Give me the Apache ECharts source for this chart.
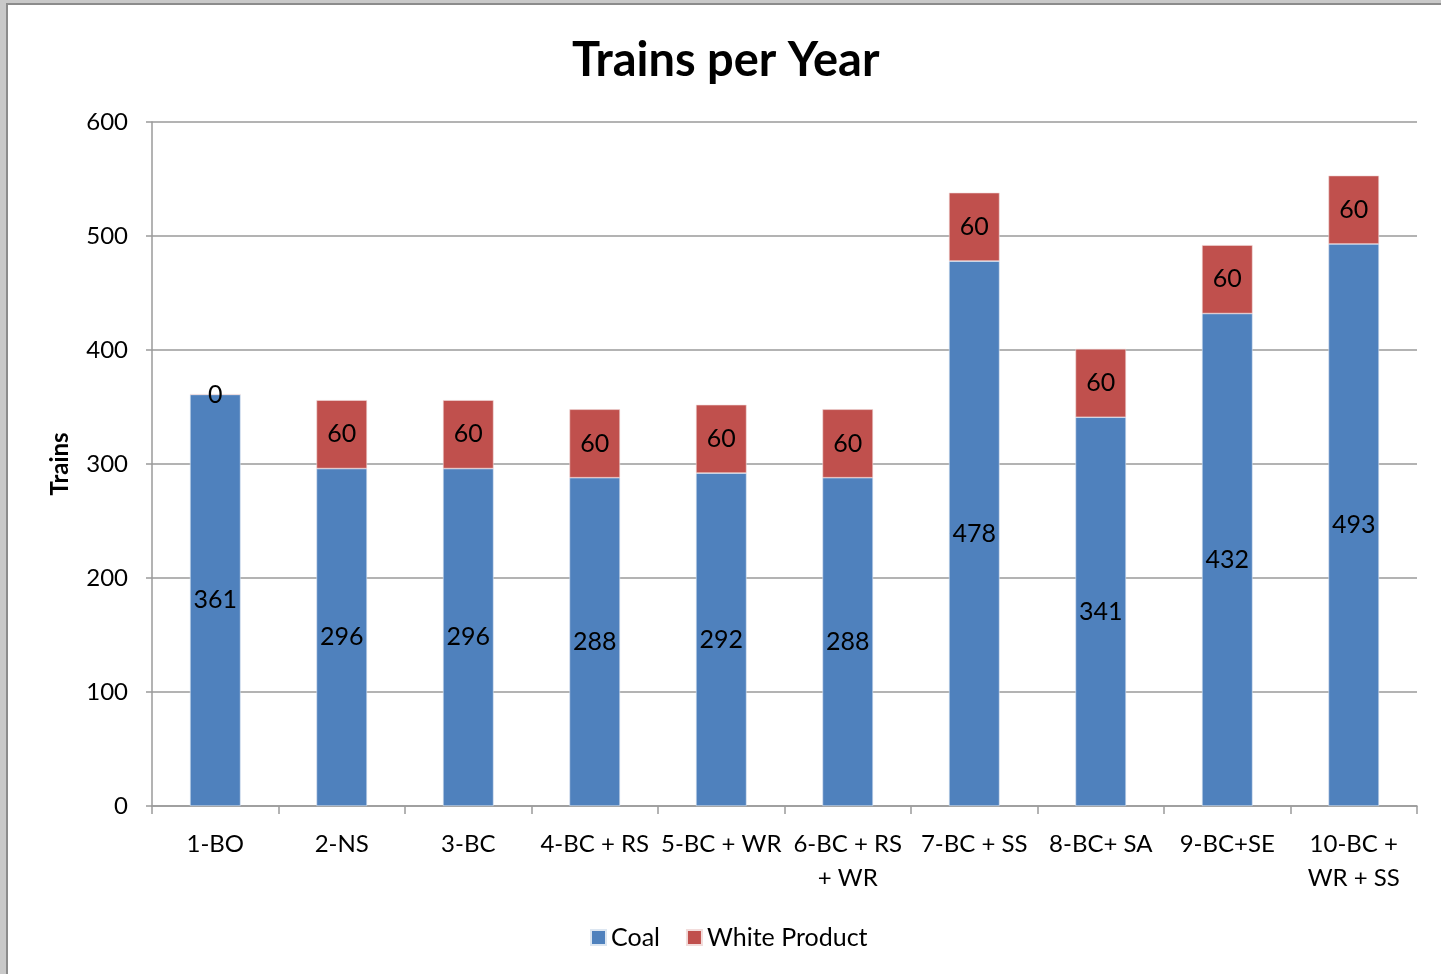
<!DOCTYPE html>
<html>
<head>
<meta charset="utf-8">
<script src="https://cdn.jsdelivr.net/npm/echarts@6/dist/echarts.min.js"></script>
<style>
  html, body { margin: 0; padding: 0; width: 1441px; height: 974px; overflow: hidden; background: #c9c9c9; }
  #sheet { position: absolute; left: 6px; top: 3px; right: 0; bottom: 0; background: #fff;
           border-left: 2px solid #8c8c8c; border-top: 2px solid #8c8c8c; }
  #chart { position: absolute; left: 0; top: 0; width: 1441px; height: 974px; }
</style>
</head>
<body>
<div id="sheet"></div>
<div id="chart"></div>
<script>
// Scenario names (x axis)
const categories = ['1-BO', '2-NS', '3-BC', '4-BC + RS', '5-BC + WR', '6-BC + RS\n+ WR',
                    '7-BC + SS', '8-BC+ SA', '9-BC+SE', '10-BC +\nWR + SS'];
// Trains per year by product
const coal = [361, 296, 296, 288, 292, 288, 478, 341, 432, 493];
const whiteProduct = [0, 60, 60, 60, 60, 60, 60, 60, 60, 60];
// Value axis ticks
const yTicks = [0, 100, 200, 300, 400, 500, 600];

const FONT = 'Lato, "Open Sans", sans-serif';
const chart = echarts.init(document.getElementById('chart'), null, { renderer: 'canvas' });

const labelStyle = { show: true, position: 'inside', color: '#000', fontSize: 25, fontFamily: FONT };

chart.setOption({
  backgroundColor: 'transparent',
  animation: false,
  title: {
    text: 'Trains per Year', left: 567, top: 32,
    textStyle: { fontSize: 47, fontWeight: 'bold', fontFamily: FONT, color: '#000' }
  },
  legend: {
    bottom: 19, left: 585, itemWidth: 15, itemHeight: 15, itemGap: 26,
    icon: 'rect',
    textStyle: { fontSize: 25, fontFamily: FONT, color: '#000' },
    data: ['Coal', 'White Product']
  },
  grid: { left: 152, right: 24, top: 122, bottom: 168, containLabel: false },
  xAxis: {
    type: 'category', data: categories,
    axisLine: { lineStyle: { color: '#9a9a9a', width: 1.5 } },
    axisTick: { show: true, length: 8, lineStyle: { color: '#9a9a9a', width: 1.5 } },
    axisLabel: { fontSize: 24, fontFamily: FONT, color: '#000', margin: 21, lineHeight: 34, interval: 0 }
  },
  yAxis: {
    type: 'value', min: yTicks[0], max: yTicks[yTicks.length - 1], interval: 100,
    name: 'Trains', nameLocation: 'middle', nameGap: 80,
    nameTextStyle: { fontSize: 24, fontWeight: 'bold', fontFamily: FONT, color: '#000' },
    axisLine: { show: true, lineStyle: { color: '#9a9a9a', width: 1.5 } },
    axisTick: { show: true, length: 6, lineStyle: { color: '#9a9a9a', width: 1.5 } },
    splitLine: { lineStyle: { color: '#9a9a9a', width: 1.5 } },
    axisLabel: { fontSize: 24, fontFamily: FONT, color: '#000', margin: 24 }
  },
  series: [
    {
      name: 'Coal', type: 'bar', stack: 'total', barWidth: '40%', data: coal,
      itemStyle: { color: '#4F81BD', borderColor: '#dce6f1', borderWidth: 0.6 },
      label: labelStyle
    },
    {
      name: 'White Product', type: 'bar', stack: 'total', barWidth: '40%', data: whiteProduct,
      itemStyle: { color: '#C0504D', borderColor: '#f2dcdb', borderWidth: 0.6 },
      label: labelStyle
    }
  ]
});
</script>
</body>
</html>
